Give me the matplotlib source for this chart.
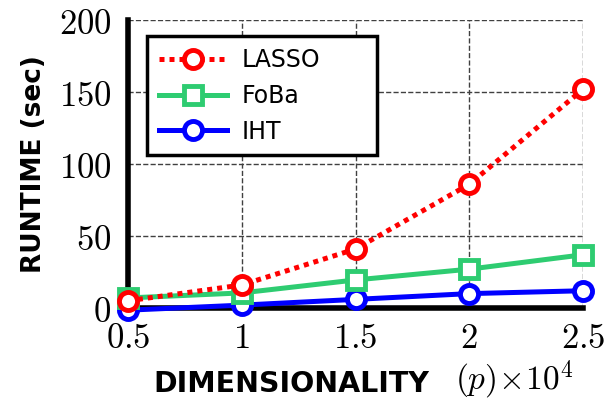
import matplotlib
matplotlib.use("Agg")
import matplotlib.pyplot as plt

plt.rcParams['mathtext.fontset'] = 'cm'
plt.rcParams['font.family'] = ['DejaVu Sans']

# data
dims = [0.5, 1.0, 1.5, 2.0, 2.5]
lasso = [5, 16, 41, 86, 152]
foba = [7, 10.5, 19.5, 27, 37]
iht = [-1.5, 2, 6, 10, 12]

xticks = [0.5, 1, 1.5, 2, 2.5]
xtick_labels = ['$0.5$', '$1$', '$1.5$', '$2$', '$2.5$']
yticks = [0, 50, 100, 150, 200]
ytick_labels = ['$0$', '$50$', '$100$', '$150$', '$200$']

fig = plt.figure(figsize=(6.08, 4.03), dpi=100)
ax = fig.add_axes([0.2105, 0.2357, 0.7485, 0.7143])

ax.plot(dims, lasso, color='#ff0000', ls=(0, (1, 1)), lw=3.6, marker='o', ms=13,
        mew=3.5, mfc='white', label='LASSO', clip_on=False, zorder=5)
ax.plot(dims, foba, color='#2ecc71', ls='-', lw=3.6, marker='s', ms=13,
        mew=3.5, mfc='white', label='FoBa', clip_on=False, zorder=4)
ax.plot(dims, iht, color='#0000ff', ls='-', lw=3.6, marker='o', ms=13,
        mew=3.5, mfc='white', label='IHT', clip_on=False, zorder=3)

ax.set_xlim(0.5, 2.5)
ax.set_ylim(0, 200)
ax.set_xticks(xticks)
ax.set_xticklabels(xtick_labels, fontsize=25)
ax.set_yticks(yticks)
ax.set_yticklabels(ytick_labels, fontsize=25)
ax.tick_params(axis='y', length=0, pad=12)
ax.tick_params(axis='x', length=0, pad=9)

ax.grid(True, ls='--', color='0.25', lw=1)
for s in ['top', 'right']:
    ax.spines[s].set_visible(False)
for s in ['left', 'bottom']:
    ax.spines[s].set_linewidth(4)
    ax.spines[s].set_zorder(2)

ax.set_ylabel('RUNTIME (sec)', fontsize=19, fontweight='bold', labelpad=8)
# x label in two parts: sans text + larger math part
fig.text(153 / 608, 1 - 384 / 403, 'DIMENSIONALITY', fontsize=20.5,
         fontweight='bold', ha='left', va='center')
fig.text(455 / 608, 1 - 380 / 403, r'$(p)\!\times\!10^4$', fontsize=24,
         ha='left', va='center')

leg = ax.legend(loc='upper left', bbox_to_anchor=(0.042, 0.0, 0.505, 0.944),
                mode='expand', borderaxespad=0, fontsize=17,
                fancybox=False, framealpha=1, edgecolor='black', handlelength=2.9,
                handletextpad=0.6, borderpad=0.5, labelspacing=0.5)
leg.get_frame().set_linewidth(2.5)

fig.savefig('out.png', dpi=100)
